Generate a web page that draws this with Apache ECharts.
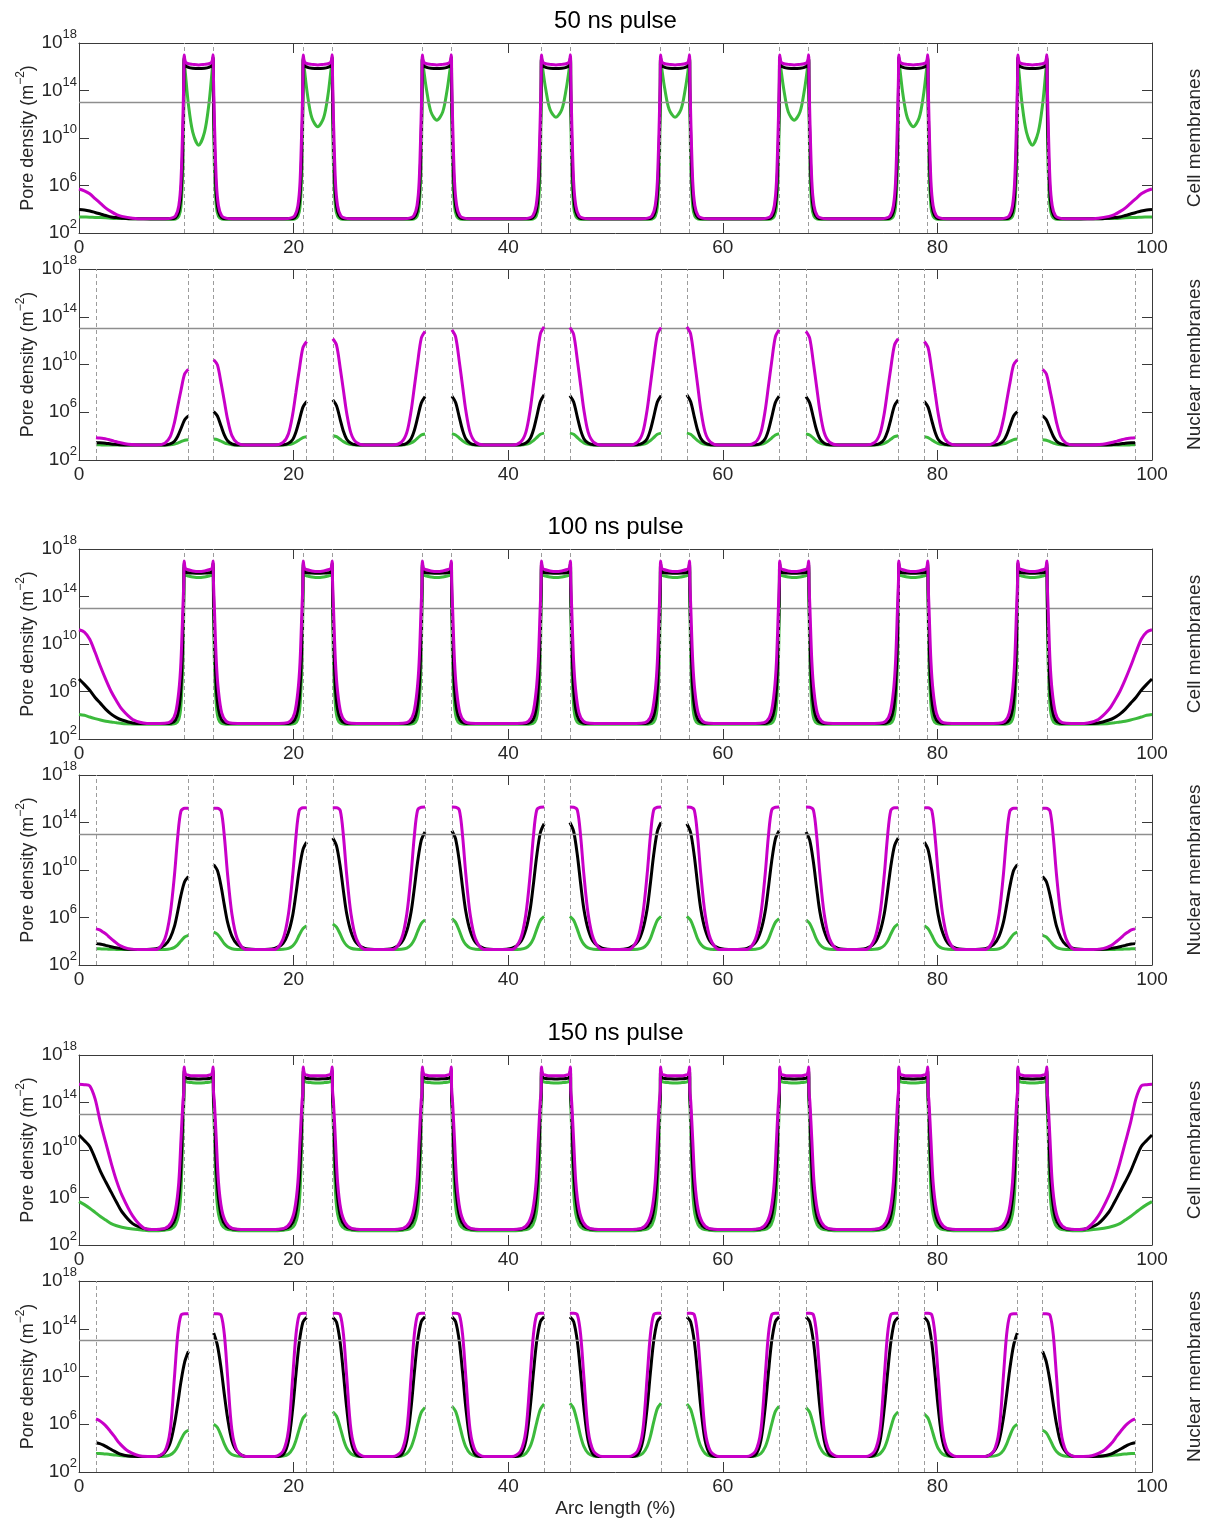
<!DOCTYPE html>
<html>
<head>
<meta charset="utf-8">
<script src="https://cdn.jsdelivr.net/npm/echarts@6/dist/echarts.min.js"></script>
<style>
  html, body { margin: 0; padding: 0; background: #ffffff; }
  #chart { width: 1209px; height: 1522px; }
</style>
</head>
<body>
<div id="chart"></div>
<script>
// ---------------------------------------------------------------------------
// Pore density along the arc length, stored as log10(pore density / m^-2).
// Three pulse lengths, each with a cell-membrane and a nuclear-membrane panel.
// Colours: green, black, magenta traces.
// ---------------------------------------------------------------------------

const pulseTitles = ['50 ns pulse', '100 ns pulse', '150 ns pulse'];
const xTicks = [0, 20, 40, 60, 80, 100];
const yTickExponents = [2, 6, 10, 14, 18];
const thresholdExp = 13;

// Membrane boundaries (arc length, %), drawn as dashed verticals
const cellBoundaries = [9.8, 12.5, 20.9, 23.6, 32.0, 34.7, 43.1, 45.8, 54.2, 56.9, 65.3, 68.0, 76.4, 79.1, 87.5, 90.2];
const nuclearBoundaries = [1.58, 10.2, 12.55, 21.22, 23.65, 32.25, 34.75, 43.35, 45.75, 54.25, 56.65, 65.25, 67.75, 76.35, 78.78, 87.45, 89.8, 98.42];

// Sample positions for the cell-membrane traces: left end, around each boundary pair, right end
const cellArc = [
  [0, 0.5, 1, 1.5, 2, 2.5, 3, 3.5, 4, 5, 6],
  [6.8, 8.0, 8.6, 9.0, 9.3, 9.5, 9.68, 9.77, 9.8, 9.92, 10.2, 10.6, 11.15, 11.7, 12.1, 12.38, 12.5, 12.53, 12.62, 12.8, 13.0, 13.3, 13.7, 14.3, 15.5],
  [17.9, 19.1, 19.7, 20.1, 20.4, 20.6, 20.78, 20.87, 20.9, 21.02, 21.3, 21.7, 22.25, 22.8, 23.2, 23.48, 23.6, 23.63, 23.72, 23.9, 24.1, 24.4, 24.8, 25.4, 26.6],
  [29.0, 30.2, 30.8, 31.2, 31.5, 31.7, 31.88, 31.97, 32.0, 32.12, 32.4, 32.8, 33.35, 33.9, 34.3, 34.58, 34.7, 34.73, 34.82, 35.0, 35.2, 35.5, 35.9, 36.5, 37.7],
  [40.1, 41.3, 41.9, 42.3, 42.6, 42.8, 42.98, 43.07, 43.1, 43.22, 43.5, 43.9, 44.45, 45.0, 45.4, 45.68, 45.8, 45.83, 45.92, 46.1, 46.3, 46.6, 47.0, 47.6, 48.8],
  [51.2, 52.4, 53.0, 53.4, 53.7, 53.9, 54.08, 54.17, 54.2, 54.32, 54.6, 55.0, 55.55, 56.1, 56.5, 56.78, 56.9, 56.93, 57.02, 57.2, 57.4, 57.7, 58.1, 58.7, 59.9],
  [62.3, 63.5, 64.1, 64.5, 64.8, 65.0, 65.18, 65.27, 65.3, 65.42, 65.7, 66.1, 66.65, 67.2, 67.6, 67.88, 68.0, 68.03, 68.12, 68.3, 68.5, 68.8, 69.2, 69.8, 71.0],
  [73.4, 74.6, 75.2, 75.6, 75.9, 76.1, 76.28, 76.37, 76.4, 76.52, 76.8, 77.2, 77.75, 78.3, 78.7, 78.98, 79.1, 79.13, 79.22, 79.4, 79.6, 79.9, 80.3, 80.9, 82.1],
  [84.5, 85.7, 86.3, 86.7, 87.0, 87.2, 87.38, 87.47, 87.5, 87.62, 87.9, 88.3, 88.85, 89.4, 89.8, 90.08, 90.2, 90.23, 90.32, 90.5, 90.7, 91.0, 91.4, 92.0, 93.2],
  [94, 95, 96, 96.5, 97, 97.5, 98, 98.5, 99, 99.5, 100]
];

// Sample positions for the nuclear-membrane traces, one row per nuclear segment
const nucArc = [
  [1.58, 1.93, 2.28, 2.58, 2.88, 3.28, 3.78, 4.58, 5.89, 7.2, 8.0, 8.5, 8.9, 9.2, 9.5, 9.85, 10.2],
  [12.55, 12.9, 13.25, 13.55, 13.85, 14.25, 14.75, 15.55, 16.89, 18.22, 19.02, 19.52, 19.92, 20.22, 20.52, 20.87, 21.22],
  [23.65, 24.0, 24.35, 24.65, 24.95, 25.35, 25.85, 26.65, 27.95, 29.25, 30.05, 30.55, 30.95, 31.25, 31.55, 31.9, 32.25],
  [34.75, 35.1, 35.45, 35.75, 36.05, 36.45, 36.95, 37.75, 39.05, 40.35, 41.15, 41.65, 42.05, 42.35, 42.65, 43.0, 43.35],
  [45.75, 46.1, 46.45, 46.75, 47.05, 47.45, 47.95, 48.75, 50.0, 51.25, 52.05, 52.55, 52.95, 53.25, 53.55, 53.9, 54.25],
  [56.65, 57.0, 57.35, 57.65, 57.95, 58.35, 58.85, 59.65, 60.95, 62.25, 63.05, 63.55, 63.95, 64.25, 64.55, 64.9, 65.25],
  [67.75, 68.1, 68.45, 68.75, 69.05, 69.45, 69.95, 70.75, 72.05, 73.35, 74.15, 74.65, 75.05, 75.35, 75.65, 76.0, 76.35],
  [78.78, 79.13, 79.48, 79.78, 80.08, 80.48, 80.98, 81.78, 83.12, 84.45, 85.25, 85.75, 86.15, 86.45, 86.75, 87.1, 87.45],
  [89.8, 90.15, 90.5, 90.8, 91.1, 91.5, 92.0, 92.8, 94.11, 95.42, 96.22, 96.72, 97.12, 97.42, 97.72, 98.07, 98.42]
];

// ---------------- 50 ns, cell membranes ----------------
const cell50Green = [
  [3.35, 3.34, 3.33, 3.31, 3.3, 3.28, 3.25, 3.23, 3.22, 3.2, 3.2],
  [3.15, 3.15, 3.15, 3.18, 3.4, 4.2, 7.5, 13.0, 16.7, 15.4, 12.8, 10.5, 9.4, 10.5, 12.8, 15.4, 16.7, 13.0, 7.5, 4.2, 3.4, 3.18, 3.15, 3.15, 3.15],
  [3.15, 3.15, 3.15, 3.18, 3.4, 4.2, 7.5, 13.0, 16.7, 15.7, 13.6, 11.7, 10.95, 11.7, 13.6, 15.7, 16.7, 13.0, 7.5, 4.2, 3.4, 3.18, 3.15, 3.15, 3.15],
  [3.15, 3.15, 3.15, 3.18, 3.4, 4.2, 7.5, 13.0, 16.7, 15.8, 14.0, 12.2, 11.5, 12.2, 14.0, 15.8, 16.7, 13.0, 7.5, 4.2, 3.4, 3.18, 3.15, 3.15, 3.15],
  [3.15, 3.15, 3.15, 3.18, 3.4, 4.2, 7.5, 13.0, 16.7, 15.8, 14.1, 12.4, 11.75, 12.4, 14.1, 15.8, 16.7, 13.0, 7.5, 4.2, 3.4, 3.18, 3.15, 3.15, 3.15],
  [3.15, 3.15, 3.15, 3.18, 3.4, 4.2, 7.5, 13.0, 16.7, 15.8, 14.1, 12.4, 11.75, 12.4, 14.1, 15.8, 16.7, 13.0, 7.5, 4.2, 3.4, 3.18, 3.15, 3.15, 3.15],
  [3.15, 3.15, 3.15, 3.18, 3.4, 4.2, 7.5, 13.0, 16.7, 15.8, 14.0, 12.2, 11.5, 12.2, 14.0, 15.8, 16.7, 13.0, 7.5, 4.2, 3.4, 3.18, 3.15, 3.15, 3.15],
  [3.15, 3.15, 3.15, 3.18, 3.4, 4.2, 7.5, 13.0, 16.7, 15.7, 13.6, 11.7, 10.95, 11.7, 13.6, 15.7, 16.7, 13.0, 7.5, 4.2, 3.4, 3.18, 3.15, 3.15, 3.15],
  [3.15, 3.15, 3.15, 3.18, 3.4, 4.2, 7.5, 13.0, 16.7, 15.4, 12.8, 10.5, 9.4, 10.5, 12.8, 15.4, 16.7, 13.0, 7.5, 4.2, 3.4, 3.18, 3.15, 3.15, 3.15],
  [3.2, 3.2, 3.22, 3.23, 3.25, 3.28, 3.3, 3.31, 3.33, 3.34, 3.35]
];
const cell50Black = [
  [3.97, 3.93, 3.85, 3.73, 3.6, 3.47, 3.35, 3.3, 3.25, 3.2, 3.2],
  [3.2, 3.2, 3.2, 3.3, 3.8, 5.2, 9.5, 14.0, 16.8, 16.1, 15.95, 15.88, 15.85, 15.88, 15.95, 16.1, 16.8, 14.0, 9.5, 5.2, 3.8, 3.3, 3.2, 3.2, 3.2],
  [3.2, 3.2, 3.2, 3.3, 3.8, 5.2, 9.5, 14.0, 16.8, 16.1, 15.95, 15.88, 15.85, 15.88, 15.95, 16.1, 16.8, 14.0, 9.5, 5.2, 3.8, 3.3, 3.2, 3.2, 3.2],
  [3.2, 3.2, 3.2, 3.3, 3.8, 5.2, 9.5, 14.0, 16.8, 16.1, 15.95, 15.88, 15.85, 15.88, 15.95, 16.1, 16.8, 14.0, 9.5, 5.2, 3.8, 3.3, 3.2, 3.2, 3.2],
  [3.2, 3.2, 3.2, 3.3, 3.8, 5.2, 9.5, 14.0, 16.8, 16.1, 15.95, 15.88, 15.85, 15.88, 15.95, 16.1, 16.8, 14.0, 9.5, 5.2, 3.8, 3.3, 3.2, 3.2, 3.2],
  [3.2, 3.2, 3.2, 3.3, 3.8, 5.2, 9.5, 14.0, 16.8, 16.1, 15.95, 15.88, 15.85, 15.88, 15.95, 16.1, 16.8, 14.0, 9.5, 5.2, 3.8, 3.3, 3.2, 3.2, 3.2],
  [3.2, 3.2, 3.2, 3.3, 3.8, 5.2, 9.5, 14.0, 16.8, 16.1, 15.95, 15.88, 15.85, 15.88, 15.95, 16.1, 16.8, 14.0, 9.5, 5.2, 3.8, 3.3, 3.2, 3.2, 3.2],
  [3.2, 3.2, 3.2, 3.3, 3.8, 5.2, 9.5, 14.0, 16.8, 16.1, 15.95, 15.88, 15.85, 15.88, 15.95, 16.1, 16.8, 14.0, 9.5, 5.2, 3.8, 3.3, 3.2, 3.2, 3.2],
  [3.2, 3.2, 3.2, 3.3, 3.8, 5.2, 9.5, 14.0, 16.8, 16.1, 15.95, 15.88, 15.85, 15.88, 15.95, 16.1, 16.8, 14.0, 9.5, 5.2, 3.8, 3.3, 3.2, 3.2, 3.2],
  [3.2, 3.2, 3.25, 3.3, 3.35, 3.47, 3.6, 3.73, 3.85, 3.93, 3.97]
];
const cell50Magenta = [
  [5.7, 5.55, 5.3, 4.9, 4.5, 4.1, 3.8, 3.55, 3.4, 3.25, 3.2],
  [3.2, 3.2, 3.25, 3.45, 4.3, 6.3, 11.5, 15.2, 17.0, 16.4, 16.25, 16.2, 16.15, 16.2, 16.25, 16.4, 17.0, 15.2, 11.5, 6.3, 4.3, 3.45, 3.25, 3.2, 3.2],
  [3.2, 3.2, 3.25, 3.45, 4.3, 6.3, 11.5, 15.2, 17.0, 16.4, 16.25, 16.2, 16.15, 16.2, 16.25, 16.4, 17.0, 15.2, 11.5, 6.3, 4.3, 3.45, 3.25, 3.2, 3.2],
  [3.2, 3.2, 3.25, 3.45, 4.3, 6.3, 11.5, 15.2, 17.0, 16.4, 16.25, 16.2, 16.15, 16.2, 16.25, 16.4, 17.0, 15.2, 11.5, 6.3, 4.3, 3.45, 3.25, 3.2, 3.2],
  [3.2, 3.2, 3.25, 3.45, 4.3, 6.3, 11.5, 15.2, 17.0, 16.4, 16.25, 16.2, 16.15, 16.2, 16.25, 16.4, 17.0, 15.2, 11.5, 6.3, 4.3, 3.45, 3.25, 3.2, 3.2],
  [3.2, 3.2, 3.25, 3.45, 4.3, 6.3, 11.5, 15.2, 17.0, 16.4, 16.25, 16.2, 16.15, 16.2, 16.25, 16.4, 17.0, 15.2, 11.5, 6.3, 4.3, 3.45, 3.25, 3.2, 3.2],
  [3.2, 3.2, 3.25, 3.45, 4.3, 6.3, 11.5, 15.2, 17.0, 16.4, 16.25, 16.2, 16.15, 16.2, 16.25, 16.4, 17.0, 15.2, 11.5, 6.3, 4.3, 3.45, 3.25, 3.2, 3.2],
  [3.2, 3.2, 3.25, 3.45, 4.3, 6.3, 11.5, 15.2, 17.0, 16.4, 16.25, 16.2, 16.15, 16.2, 16.25, 16.4, 17.0, 15.2, 11.5, 6.3, 4.3, 3.45, 3.25, 3.2, 3.2],
  [3.2, 3.2, 3.25, 3.45, 4.3, 6.3, 11.5, 15.2, 17.0, 16.4, 16.25, 16.2, 16.15, 16.2, 16.25, 16.4, 17.0, 15.2, 11.5, 6.3, 4.3, 3.45, 3.25, 3.2, 3.2],
  [3.2, 3.25, 3.4, 3.55, 3.8, 4.1, 4.5, 4.9, 5.3, 5.55, 5.7]
];

// ---------------- 50 ns, nuclear membranes ----------------
const nuc50Green = [
  [3.27, 3.27, 3.26, 3.26, 3.25, 3.25, 3.25, 3.25, 3.25, 3.25, 3.25, 3.28, 3.34, 3.42, 3.53, 3.66, 3.7],
  [3.76, 3.71, 3.57, 3.44, 3.35, 3.28, 3.26, 3.25, 3.25, 3.25, 3.26, 3.29, 3.38, 3.51, 3.68, 3.88, 3.95],
  [4.03, 3.95, 3.73, 3.54, 3.4, 3.3, 3.26, 3.25, 3.25, 3.25, 3.26, 3.31, 3.43, 3.59, 3.83, 4.09, 4.18],
  [4.2, 4.1, 3.84, 3.6, 3.43, 3.31, 3.26, 3.25, 3.25, 3.25, 3.26, 3.31, 3.44, 3.62, 3.87, 4.15, 4.25],
  [4.25, 4.15, 3.87, 3.62, 3.44, 3.31, 3.26, 3.25, 3.25, 3.25, 3.26, 3.31, 3.44, 3.62, 3.87, 4.15, 4.25],
  [4.25, 4.15, 3.87, 3.62, 3.44, 3.31, 3.26, 3.25, 3.25, 3.25, 3.26, 3.31, 3.43, 3.6, 3.84, 4.1, 4.2],
  [4.18, 4.09, 3.83, 3.59, 3.43, 3.31, 3.26, 3.25, 3.25, 3.25, 3.26, 3.3, 3.4, 3.54, 3.73, 3.95, 4.03],
  [3.95, 3.88, 3.68, 3.51, 3.38, 3.29, 3.26, 3.25, 3.25, 3.25, 3.26, 3.28, 3.35, 3.44, 3.57, 3.71, 3.76],
  [3.7, 3.66, 3.53, 3.42, 3.34, 3.28, 3.25, 3.25, 3.25, 3.25, 3.25, 3.25, 3.25, 3.26, 3.26, 3.27, 3.27]
];
const nuc50Black = [
  [3.45, 3.44, 3.42, 3.39, 3.36, 3.32, 3.28, 3.25, 3.25, 3.25, 3.26, 3.35, 3.57, 3.99, 4.62, 5.38, 5.7],
  [6.05, 5.69, 4.82, 4.09, 3.61, 3.36, 3.26, 3.25, 3.25, 3.25, 3.27, 3.4, 3.72, 4.35, 5.29, 6.43, 6.9],
  [7.03, 6.54, 5.37, 4.38, 3.74, 3.4, 3.27, 3.25, 3.25, 3.25, 3.27, 3.41, 3.78, 4.47, 5.52, 6.78, 7.31],
  [7.35, 6.82, 5.55, 4.48, 3.78, 3.41, 3.27, 3.25, 3.25, 3.25, 3.27, 3.42, 3.8, 4.51, 5.6, 6.9, 7.45],
  [7.4, 6.86, 5.57, 4.5, 3.79, 3.42, 3.27, 3.25, 3.25, 3.25, 3.27, 3.42, 3.79, 4.5, 5.57, 6.86, 7.4],
  [7.45, 6.9, 5.6, 4.51, 3.8, 3.42, 3.27, 3.25, 3.25, 3.25, 3.27, 3.41, 3.78, 4.48, 5.55, 6.82, 7.35],
  [7.31, 6.78, 5.52, 4.47, 3.78, 3.41, 3.27, 3.25, 3.25, 3.25, 3.27, 3.4, 3.74, 4.38, 5.37, 6.54, 7.03],
  [6.9, 6.43, 5.29, 4.35, 3.72, 3.4, 3.27, 3.25, 3.25, 3.25, 3.26, 3.36, 3.61, 4.09, 4.82, 5.69, 6.05],
  [5.7, 5.38, 4.62, 3.99, 3.57, 3.35, 3.26, 3.25, 3.25, 3.25, 3.28, 3.32, 3.36, 3.39, 3.42, 3.44, 3.45]
];
const nuc50Magenta = [
  [3.87, 3.84, 3.8, 3.75, 3.68, 3.58, 3.46, 3.32, 3.25, 3.25, 3.41, 3.95, 5.16, 6.49, 7.82, 9.22, 9.6],
  [10.4, 9.97, 8.4, 6.9, 5.4, 4.04, 3.43, 3.25, 3.25, 3.25, 3.47, 4.2, 5.85, 7.68, 9.5, 11.41, 11.93],
  [12.16, 11.63, 9.67, 7.79, 5.92, 4.23, 3.47, 3.25, 3.25, 3.25, 3.49, 4.3, 6.1, 8.1, 10.1, 12.2, 12.77],
  [12.9, 12.32, 10.2, 8.17, 6.15, 4.31, 3.49, 3.25, 3.25, 3.25, 3.5, 4.34, 6.22, 8.3, 10.38, 12.56, 13.15],
  [13.1, 12.51, 10.34, 8.27, 6.21, 4.33, 3.5, 3.25, 3.25, 3.25, 3.5, 4.33, 6.21, 8.27, 10.34, 12.51, 13.1],
  [13.15, 12.56, 10.38, 8.3, 6.22, 4.34, 3.5, 3.25, 3.25, 3.25, 3.49, 4.31, 6.15, 8.17, 10.2, 12.32, 12.9],
  [12.77, 12.2, 10.1, 8.1, 6.1, 4.3, 3.49, 3.25, 3.25, 3.25, 3.47, 4.23, 5.92, 7.79, 9.67, 11.63, 12.16],
  [11.93, 11.41, 9.5, 7.68, 5.85, 4.2, 3.47, 3.25, 3.25, 3.25, 3.43, 4.04, 5.4, 6.9, 8.4, 9.97, 10.4],
  [9.6, 9.22, 7.82, 6.49, 5.16, 3.95, 3.41, 3.25, 3.25, 3.32, 3.46, 3.58, 3.68, 3.75, 3.8, 3.84, 3.87]
];

// ---------------- 100 ns, cell membranes ----------------
const cell100Green = [
  [4.07, 4.0, 3.85, 3.72, 3.6, 3.5, 3.43, 3.37, 3.3, 3.26, 3.25],
  [3.25, 3.25, 3.25, 3.3, 3.65, 4.8, 8.5, 13.5, 16.5, 15.85, 15.72, 15.65, 15.6, 15.65, 15.72, 15.85, 16.5, 13.5, 8.5, 4.8, 3.65, 3.3, 3.25, 3.25, 3.25],
  [3.25, 3.25, 3.25, 3.3, 3.65, 4.8, 8.5, 13.5, 16.5, 15.85, 15.72, 15.65, 15.6, 15.65, 15.72, 15.85, 16.5, 13.5, 8.5, 4.8, 3.65, 3.3, 3.25, 3.25, 3.25],
  [3.25, 3.25, 3.25, 3.3, 3.65, 4.8, 8.5, 13.5, 16.5, 15.85, 15.72, 15.65, 15.6, 15.65, 15.72, 15.85, 16.5, 13.5, 8.5, 4.8, 3.65, 3.3, 3.25, 3.25, 3.25],
  [3.25, 3.25, 3.25, 3.3, 3.65, 4.8, 8.5, 13.5, 16.5, 15.85, 15.72, 15.65, 15.6, 15.65, 15.72, 15.85, 16.5, 13.5, 8.5, 4.8, 3.65, 3.3, 3.25, 3.25, 3.25],
  [3.25, 3.25, 3.25, 3.3, 3.65, 4.8, 8.5, 13.5, 16.5, 15.85, 15.72, 15.65, 15.6, 15.65, 15.72, 15.85, 16.5, 13.5, 8.5, 4.8, 3.65, 3.3, 3.25, 3.25, 3.25],
  [3.25, 3.25, 3.25, 3.3, 3.65, 4.8, 8.5, 13.5, 16.5, 15.85, 15.72, 15.65, 15.6, 15.65, 15.72, 15.85, 16.5, 13.5, 8.5, 4.8, 3.65, 3.3, 3.25, 3.25, 3.25],
  [3.25, 3.25, 3.25, 3.3, 3.65, 4.8, 8.5, 13.5, 16.5, 15.85, 15.72, 15.65, 15.6, 15.65, 15.72, 15.85, 16.5, 13.5, 8.5, 4.8, 3.65, 3.3, 3.25, 3.25, 3.25],
  [3.25, 3.25, 3.25, 3.3, 3.65, 4.8, 8.5, 13.5, 16.5, 15.85, 15.72, 15.65, 15.6, 15.65, 15.72, 15.85, 16.5, 13.5, 8.5, 4.8, 3.65, 3.3, 3.25, 3.25, 3.25],
  [3.25, 3.26, 3.3, 3.37, 3.43, 3.5, 3.6, 3.72, 3.85, 4.0, 4.07]
];
const cell100Black = [
  [7.05, 6.6, 6.1, 5.5, 5.0, 4.5, 4.1, 3.8, 3.6, 3.35, 3.3],
  [3.3, 3.3, 3.35, 3.6, 4.5, 6.3, 10.5, 14.5, 16.8, 16.1, 16.0, 15.97, 15.95, 15.97, 16.0, 16.1, 16.8, 14.5, 10.5, 6.3, 4.5, 3.6, 3.35, 3.3, 3.3],
  [3.3, 3.3, 3.35, 3.6, 4.5, 6.3, 10.5, 14.5, 16.8, 16.1, 16.0, 15.97, 15.95, 15.97, 16.0, 16.1, 16.8, 14.5, 10.5, 6.3, 4.5, 3.6, 3.35, 3.3, 3.3],
  [3.3, 3.3, 3.35, 3.6, 4.5, 6.3, 10.5, 14.5, 16.8, 16.1, 16.0, 15.97, 15.95, 15.97, 16.0, 16.1, 16.8, 14.5, 10.5, 6.3, 4.5, 3.6, 3.35, 3.3, 3.3],
  [3.3, 3.3, 3.35, 3.6, 4.5, 6.3, 10.5, 14.5, 16.8, 16.1, 16.0, 15.97, 15.95, 15.97, 16.0, 16.1, 16.8, 14.5, 10.5, 6.3, 4.5, 3.6, 3.35, 3.3, 3.3],
  [3.3, 3.3, 3.35, 3.6, 4.5, 6.3, 10.5, 14.5, 16.8, 16.1, 16.0, 15.97, 15.95, 15.97, 16.0, 16.1, 16.8, 14.5, 10.5, 6.3, 4.5, 3.6, 3.35, 3.3, 3.3],
  [3.3, 3.3, 3.35, 3.6, 4.5, 6.3, 10.5, 14.5, 16.8, 16.1, 16.0, 15.97, 15.95, 15.97, 16.0, 16.1, 16.8, 14.5, 10.5, 6.3, 4.5, 3.6, 3.35, 3.3, 3.3],
  [3.3, 3.3, 3.35, 3.6, 4.5, 6.3, 10.5, 14.5, 16.8, 16.1, 16.0, 15.97, 15.95, 15.97, 16.0, 16.1, 16.8, 14.5, 10.5, 6.3, 4.5, 3.6, 3.35, 3.3, 3.3],
  [3.3, 3.3, 3.35, 3.6, 4.5, 6.3, 10.5, 14.5, 16.8, 16.1, 16.0, 15.97, 15.95, 15.97, 16.0, 16.1, 16.8, 14.5, 10.5, 6.3, 4.5, 3.6, 3.35, 3.3, 3.3],
  [3.3, 3.35, 3.6, 3.8, 4.1, 4.5, 5.0, 5.5, 6.1, 6.6, 7.05]
];
const cell100Magenta = [
  [11.2, 11.0, 10.4, 9.3, 8.1, 7.0, 6.0, 5.2, 4.5, 3.65, 3.35],
  [3.3, 3.32, 3.5, 4.2, 6.0, 8.5, 13.0, 15.3, 17.0, 16.35, 16.25, 16.15, 16.1, 16.15, 16.25, 16.35, 17.0, 15.3, 13.0, 8.5, 6.0, 4.2, 3.5, 3.32, 3.3],
  [3.3, 3.32, 3.5, 4.2, 6.0, 8.5, 13.0, 15.3, 17.0, 16.35, 16.25, 16.15, 16.1, 16.15, 16.25, 16.35, 17.0, 15.3, 13.0, 8.5, 6.0, 4.2, 3.5, 3.32, 3.3],
  [3.3, 3.32, 3.5, 4.2, 6.0, 8.5, 13.0, 15.3, 17.0, 16.35, 16.25, 16.15, 16.1, 16.15, 16.25, 16.35, 17.0, 15.3, 13.0, 8.5, 6.0, 4.2, 3.5, 3.32, 3.3],
  [3.3, 3.32, 3.5, 4.2, 6.0, 8.5, 13.0, 15.3, 17.0, 16.35, 16.25, 16.15, 16.1, 16.15, 16.25, 16.35, 17.0, 15.3, 13.0, 8.5, 6.0, 4.2, 3.5, 3.32, 3.3],
  [3.3, 3.32, 3.5, 4.2, 6.0, 8.5, 13.0, 15.3, 17.0, 16.35, 16.25, 16.15, 16.1, 16.15, 16.25, 16.35, 17.0, 15.3, 13.0, 8.5, 6.0, 4.2, 3.5, 3.32, 3.3],
  [3.3, 3.32, 3.5, 4.2, 6.0, 8.5, 13.0, 15.3, 17.0, 16.35, 16.25, 16.15, 16.1, 16.15, 16.25, 16.35, 17.0, 15.3, 13.0, 8.5, 6.0, 4.2, 3.5, 3.32, 3.3],
  [3.3, 3.32, 3.5, 4.2, 6.0, 8.5, 13.0, 15.3, 17.0, 16.35, 16.25, 16.15, 16.1, 16.15, 16.25, 16.35, 17.0, 15.3, 13.0, 8.5, 6.0, 4.2, 3.5, 3.32, 3.3],
  [3.3, 3.32, 3.5, 4.2, 6.0, 8.5, 13.0, 15.3, 17.0, 16.35, 16.25, 16.15, 16.1, 16.15, 16.25, 16.35, 17.0, 15.3, 13.0, 8.5, 6.0, 4.2, 3.5, 3.32, 3.3],
  [3.35, 3.65, 4.5, 5.2, 6.0, 7.0, 8.1, 9.3, 10.4, 11.0, 11.2]
];

// ---------------- 100 ns, nuclear membranes ----------------
const nuc100Green = [
  [3.37, 3.36, 3.35, 3.34, 3.33, 3.32, 3.31, 3.3, 3.3, 3.3, 3.31, 3.36, 3.49, 3.7, 4.02, 4.36, 4.5],
  [4.77, 4.59, 4.18, 3.79, 3.54, 3.37, 3.31, 3.3, 3.3, 3.3, 3.32, 3.4, 3.62, 3.96, 4.5, 5.06, 5.3],
  [5.45, 5.19, 4.59, 4.01, 3.64, 3.41, 3.32, 3.3, 3.3, 3.3, 3.33, 3.43, 3.7, 4.13, 4.8, 5.5, 5.8],
  [5.9, 5.59, 4.86, 4.16, 3.72, 3.43, 3.33, 3.3, 3.3, 3.3, 3.33, 3.44, 3.75, 4.22, 4.98, 5.76, 6.1],
  [6.1, 5.76, 4.98, 4.22, 3.75, 3.44, 3.33, 3.3, 3.3, 3.3, 3.33, 3.44, 3.75, 4.22, 4.98, 5.76, 6.1],
  [6.1, 5.76, 4.98, 4.22, 3.75, 3.44, 3.33, 3.3, 3.3, 3.3, 3.33, 3.43, 3.72, 4.16, 4.86, 5.59, 5.9],
  [5.8, 5.5, 4.8, 4.13, 3.7, 3.43, 3.33, 3.3, 3.3, 3.3, 3.32, 3.41, 3.64, 4.01, 4.59, 5.19, 5.45],
  [5.3, 5.06, 4.5, 3.96, 3.62, 3.4, 3.32, 3.3, 3.3, 3.3, 3.31, 3.37, 3.54, 3.79, 4.18, 4.59, 4.77],
  [4.5, 4.36, 4.02, 3.7, 3.49, 3.36, 3.31, 3.3, 3.3, 3.3, 3.31, 3.32, 3.33, 3.34, 3.35, 3.36, 3.37]
];
const nuc100Black = [
  [3.8, 3.77, 3.7, 3.63, 3.56, 3.48, 3.4, 3.32, 3.3, 3.36, 3.67, 4.29, 5.27, 6.5, 7.86, 9.03, 9.46],
  [10.45, 9.95, 8.59, 7.02, 5.59, 4.44, 3.73, 3.37, 3.3, 3.39, 3.84, 4.75, 6.2, 8.01, 10.0, 11.72, 12.35],
  [12.7, 12.04, 10.26, 8.19, 6.31, 4.8, 3.86, 3.39, 3.3, 3.4, 3.89, 4.88, 6.47, 8.45, 10.63, 12.51, 13.2],
  [13.3, 12.6, 10.7, 8.5, 6.5, 4.9, 3.9, 3.4, 3.3, 3.41, 3.94, 5.0, 6.69, 8.81, 11.14, 13.16, 13.9],
  [14.0, 13.25, 11.22, 8.86, 6.72, 5.01, 3.94, 3.41, 3.3, 3.41, 3.94, 5.01, 6.72, 8.86, 11.22, 13.25, 14.0],
  [13.9, 13.16, 11.14, 8.81, 6.69, 5.0, 3.94, 3.41, 3.3, 3.4, 3.9, 4.9, 6.5, 8.5, 10.7, 12.6, 13.3],
  [13.2, 12.51, 10.63, 8.45, 6.47, 4.88, 3.89, 3.4, 3.3, 3.39, 3.86, 4.8, 6.31, 8.19, 10.26, 12.04, 12.7],
  [12.35, 11.72, 10.0, 8.01, 6.2, 4.75, 3.84, 3.39, 3.3, 3.37, 3.73, 4.44, 5.59, 7.02, 8.59, 9.95, 10.45],
  [9.46, 9.03, 7.86, 6.5, 5.27, 4.29, 3.67, 3.36, 3.3, 3.32, 3.4, 3.48, 3.56, 3.63, 3.7, 3.77, 3.8]
];
const nuc100Magenta = [
  [5.04, 4.95, 4.75, 4.55, 4.3, 4.0, 3.65, 3.38, 3.3, 3.3, 4.2, 6.3, 9.6, 12.8, 14.95, 15.2, 15.2],
  [15.2, 15.2, 14.95, 12.8, 9.6, 6.3, 4.2, 3.3, 3.3, 3.3, 4.2, 6.3, 9.6, 12.8, 15.0, 15.25, 15.25],
  [15.25, 15.25, 15.0, 12.8, 9.6, 6.3, 4.2, 3.3, 3.3, 3.3, 4.2, 6.3, 9.65, 12.85, 15.02, 15.28, 15.3],
  [15.3, 15.28, 15.02, 12.85, 9.65, 6.3, 4.2, 3.3, 3.3, 3.3, 4.2, 6.3, 9.65, 12.85, 15.02, 15.28, 15.3],
  [15.3, 15.28, 15.02, 12.85, 9.65, 6.3, 4.2, 3.3, 3.3, 3.3, 4.2, 6.3, 9.65, 12.85, 15.02, 15.28, 15.3],
  [15.3, 15.28, 15.02, 12.85, 9.65, 6.3, 4.2, 3.3, 3.3, 3.3, 4.2, 6.3, 9.65, 12.85, 15.02, 15.28, 15.3],
  [15.3, 15.28, 15.02, 12.85, 9.65, 6.3, 4.2, 3.3, 3.3, 3.3, 4.2, 6.3, 9.6, 12.8, 15.0, 15.25, 15.25],
  [15.25, 15.25, 15.0, 12.8, 9.6, 6.3, 4.2, 3.3, 3.3, 3.3, 4.2, 6.3, 9.6, 12.8, 14.95, 15.2, 15.2],
  [15.2, 15.2, 14.95, 12.8, 9.6, 6.3, 4.2, 3.3, 3.3, 3.38, 3.65, 4.0, 4.3, 4.55, 4.75, 4.95, 5.04]
];

// ---------------- 150 ns, cell membranes ----------------
const cell150Green = [
  [5.65, 5.4, 5.1, 4.75, 4.4, 4.1, 3.8, 3.62, 3.5, 3.35, 3.25],
  [3.2, 3.25, 3.35, 3.7, 4.6, 6.5, 11.5, 14.0, 16.4, 15.8, 15.7, 15.67, 15.65, 15.67, 15.7, 15.8, 16.4, 14.0, 11.5, 6.5, 4.6, 3.7, 3.35, 3.25, 3.2],
  [3.2, 3.25, 3.35, 3.7, 4.6, 6.5, 11.5, 14.0, 16.4, 15.8, 15.7, 15.67, 15.65, 15.67, 15.7, 15.8, 16.4, 14.0, 11.5, 6.5, 4.6, 3.7, 3.35, 3.25, 3.2],
  [3.2, 3.25, 3.35, 3.7, 4.6, 6.5, 11.5, 14.0, 16.4, 15.8, 15.7, 15.67, 15.65, 15.67, 15.7, 15.8, 16.4, 14.0, 11.5, 6.5, 4.6, 3.7, 3.35, 3.25, 3.2],
  [3.2, 3.25, 3.35, 3.7, 4.6, 6.5, 11.5, 14.0, 16.4, 15.8, 15.7, 15.67, 15.65, 15.67, 15.7, 15.8, 16.4, 14.0, 11.5, 6.5, 4.6, 3.7, 3.35, 3.25, 3.2],
  [3.2, 3.25, 3.35, 3.7, 4.6, 6.5, 11.5, 14.0, 16.4, 15.8, 15.7, 15.67, 15.65, 15.67, 15.7, 15.8, 16.4, 14.0, 11.5, 6.5, 4.6, 3.7, 3.35, 3.25, 3.2],
  [3.2, 3.25, 3.35, 3.7, 4.6, 6.5, 11.5, 14.0, 16.4, 15.8, 15.7, 15.67, 15.65, 15.67, 15.7, 15.8, 16.4, 14.0, 11.5, 6.5, 4.6, 3.7, 3.35, 3.25, 3.2],
  [3.2, 3.25, 3.35, 3.7, 4.6, 6.5, 11.5, 14.0, 16.4, 15.8, 15.7, 15.67, 15.65, 15.67, 15.7, 15.8, 16.4, 14.0, 11.5, 6.5, 4.6, 3.7, 3.35, 3.25, 3.2],
  [3.2, 3.25, 3.35, 3.7, 4.6, 6.5, 11.5, 14.0, 16.4, 15.8, 15.7, 15.67, 15.65, 15.67, 15.7, 15.8, 16.4, 14.0, 11.5, 6.5, 4.6, 3.7, 3.35, 3.25, 3.2],
  [3.25, 3.35, 3.5, 3.62, 3.8, 4.1, 4.4, 4.75, 5.1, 5.4, 5.65]
];
const cell150Black = [
  [11.26, 10.8, 10.3, 9.3, 8.2, 7.3, 6.45, 5.6, 4.8, 3.8, 3.4],
  [3.3, 3.35, 3.6, 4.3, 6.0, 8.5, 13.0, 14.5, 16.7, 16.1, 16.02, 16.0, 15.98, 16.0, 16.02, 16.1, 16.7, 14.5, 13.0, 8.5, 6.0, 4.3, 3.6, 3.35, 3.3],
  [3.3, 3.35, 3.6, 4.3, 6.0, 8.5, 13.0, 14.5, 16.7, 16.1, 16.02, 16.0, 15.98, 16.0, 16.02, 16.1, 16.7, 14.5, 13.0, 8.5, 6.0, 4.3, 3.6, 3.35, 3.3],
  [3.3, 3.35, 3.6, 4.3, 6.0, 8.5, 13.0, 14.5, 16.7, 16.1, 16.02, 16.0, 15.98, 16.0, 16.02, 16.1, 16.7, 14.5, 13.0, 8.5, 6.0, 4.3, 3.6, 3.35, 3.3],
  [3.3, 3.35, 3.6, 4.3, 6.0, 8.5, 13.0, 14.5, 16.7, 16.1, 16.02, 16.0, 15.98, 16.0, 16.02, 16.1, 16.7, 14.5, 13.0, 8.5, 6.0, 4.3, 3.6, 3.35, 3.3],
  [3.3, 3.35, 3.6, 4.3, 6.0, 8.5, 13.0, 14.5, 16.7, 16.1, 16.02, 16.0, 15.98, 16.0, 16.02, 16.1, 16.7, 14.5, 13.0, 8.5, 6.0, 4.3, 3.6, 3.35, 3.3],
  [3.3, 3.35, 3.6, 4.3, 6.0, 8.5, 13.0, 14.5, 16.7, 16.1, 16.02, 16.0, 15.98, 16.0, 16.02, 16.1, 16.7, 14.5, 13.0, 8.5, 6.0, 4.3, 3.6, 3.35, 3.3],
  [3.3, 3.35, 3.6, 4.3, 6.0, 8.5, 13.0, 14.5, 16.7, 16.1, 16.02, 16.0, 15.98, 16.0, 16.02, 16.1, 16.7, 14.5, 13.0, 8.5, 6.0, 4.3, 3.6, 3.35, 3.3],
  [3.3, 3.35, 3.6, 4.3, 6.0, 8.5, 13.0, 14.5, 16.7, 16.1, 16.02, 16.0, 15.98, 16.0, 16.02, 16.1, 16.7, 14.5, 13.0, 8.5, 6.0, 4.3, 3.6, 3.35, 3.3],
  [3.4, 3.8, 4.8, 5.6, 6.45, 7.3, 8.2, 9.3, 10.3, 10.8, 11.26]
];
const cell150Magenta = [
  [15.53, 15.5, 15.4, 14.3, 12.3, 10.6, 8.9, 7.4, 6.2, 4.45, 3.45],
  [3.3, 3.4, 3.9, 5.0, 7.3, 10.8, 14.0, 15.0, 17.0, 16.4, 16.3, 16.25, 16.25, 16.25, 16.3, 16.4, 17.0, 15.0, 14.0, 10.8, 7.3, 5.0, 3.9, 3.4, 3.3],
  [3.3, 3.4, 3.9, 5.0, 7.3, 10.8, 14.0, 15.0, 17.0, 16.4, 16.3, 16.25, 16.25, 16.25, 16.3, 16.4, 17.0, 15.0, 14.0, 10.8, 7.3, 5.0, 3.9, 3.4, 3.3],
  [3.3, 3.4, 3.9, 5.0, 7.3, 10.8, 14.0, 15.0, 17.0, 16.4, 16.3, 16.25, 16.25, 16.25, 16.3, 16.4, 17.0, 15.0, 14.0, 10.8, 7.3, 5.0, 3.9, 3.4, 3.3],
  [3.3, 3.4, 3.9, 5.0, 7.3, 10.8, 14.0, 15.0, 17.0, 16.4, 16.3, 16.25, 16.25, 16.25, 16.3, 16.4, 17.0, 15.0, 14.0, 10.8, 7.3, 5.0, 3.9, 3.4, 3.3],
  [3.3, 3.4, 3.9, 5.0, 7.3, 10.8, 14.0, 15.0, 17.0, 16.4, 16.3, 16.25, 16.25, 16.25, 16.3, 16.4, 17.0, 15.0, 14.0, 10.8, 7.3, 5.0, 3.9, 3.4, 3.3],
  [3.3, 3.4, 3.9, 5.0, 7.3, 10.8, 14.0, 15.0, 17.0, 16.4, 16.3, 16.25, 16.25, 16.25, 16.3, 16.4, 17.0, 15.0, 14.0, 10.8, 7.3, 5.0, 3.9, 3.4, 3.3],
  [3.3, 3.4, 3.9, 5.0, 7.3, 10.8, 14.0, 15.0, 17.0, 16.4, 16.3, 16.25, 16.25, 16.25, 16.3, 16.4, 17.0, 15.0, 14.0, 10.8, 7.3, 5.0, 3.9, 3.4, 3.3],
  [3.3, 3.4, 3.9, 5.0, 7.3, 10.8, 14.0, 15.0, 17.0, 16.4, 16.3, 16.25, 16.25, 16.25, 16.3, 16.4, 17.0, 15.0, 14.0, 10.8, 7.3, 5.0, 3.9, 3.4, 3.3],
  [3.45, 4.45, 6.2, 7.4, 8.9, 10.6, 12.3, 14.3, 15.4, 15.5, 15.53]
];

// ---------------- 150 ns, nuclear membranes ----------------
const nuc150Green = [
  [3.55, 3.54, 3.52, 3.5, 3.47, 3.43, 3.38, 3.33, 3.3, 3.3, 3.32, 3.43, 3.72, 4.14, 4.71, 5.28, 5.5],
  [6.0, 5.73, 5.03, 4.33, 3.81, 3.46, 3.33, 3.3, 3.3, 3.3, 3.34, 3.51, 3.97, 4.65, 5.57, 6.5, 6.85],
  [7.05, 6.68, 5.7, 4.73, 4.01, 3.53, 3.34, 3.3, 3.3, 3.3, 3.34, 3.55, 4.08, 4.86, 5.92, 6.99, 7.4],
  [7.5, 7.08, 5.99, 4.9, 4.1, 3.55, 3.34, 3.3, 3.3, 3.3, 3.34, 3.56, 4.14, 4.97, 6.12, 7.26, 7.7],
  [7.75, 7.31, 6.15, 4.99, 4.15, 3.57, 3.34, 3.3, 3.3, 3.3, 3.34, 3.57, 4.15, 4.99, 6.15, 7.31, 7.75],
  [7.7, 7.26, 6.12, 4.97, 4.14, 3.56, 3.34, 3.3, 3.3, 3.3, 3.34, 3.55, 4.1, 4.9, 5.99, 7.08, 7.5],
  [7.4, 6.99, 5.92, 4.86, 4.08, 3.55, 3.34, 3.3, 3.3, 3.3, 3.34, 3.53, 4.01, 4.73, 5.7, 6.68, 7.05],
  [6.85, 6.5, 5.57, 4.65, 3.97, 3.51, 3.34, 3.3, 3.3, 3.3, 3.33, 3.46, 3.81, 4.33, 5.03, 5.73, 6.0],
  [5.5, 5.28, 4.71, 4.14, 3.72, 3.43, 3.32, 3.3, 3.3, 3.33, 3.38, 3.43, 3.47, 3.5, 3.52, 3.54, 3.55]
];
const nuc150Black = [
  [4.45, 4.38, 4.25, 4.1, 3.95, 3.75, 3.52, 3.34, 3.3, 3.3, 3.65, 4.44, 6.03, 7.7, 9.55, 11.22, 12.1],
  [13.64, 12.61, 10.64, 8.47, 6.51, 4.64, 3.71, 3.3, 3.3, 3.3, 3.45, 4.6, 7.35, 10.2, 12.8, 14.55, 14.95],
  [14.95, 14.55, 12.8, 10.2, 7.35, 4.6, 3.45, 3.3, 3.3, 3.3, 3.45, 4.65, 7.4, 10.3, 12.9, 14.6, 15.0],
  [15.0, 14.6, 12.9, 10.3, 7.4, 4.65, 3.45, 3.3, 3.3, 3.3, 3.45, 4.65, 7.4, 10.3, 12.9, 14.6, 15.0],
  [15.0, 14.6, 12.9, 10.3, 7.4, 4.65, 3.45, 3.3, 3.3, 3.3, 3.45, 4.65, 7.4, 10.3, 12.9, 14.6, 15.0],
  [15.0, 14.6, 12.9, 10.3, 7.4, 4.65, 3.45, 3.3, 3.3, 3.3, 3.45, 4.65, 7.4, 10.3, 12.9, 14.6, 15.0],
  [15.0, 14.6, 12.9, 10.3, 7.4, 4.65, 3.45, 3.3, 3.3, 3.3, 3.45, 4.6, 7.35, 10.2, 12.8, 14.55, 14.95],
  [14.95, 14.55, 12.8, 10.2, 7.35, 4.6, 3.45, 3.3, 3.3, 3.3, 3.71, 4.64, 6.51, 8.47, 10.64, 12.61, 13.64],
  [12.1, 11.22, 9.55, 7.7, 6.03, 4.44, 3.65, 3.3, 3.3, 3.34, 3.52, 3.75, 3.95, 4.1, 4.25, 4.38, 4.45]
];
const nuc150Magenta = [
  [6.44, 6.3, 6.05, 5.78, 5.45, 5.0, 4.4, 3.75, 3.32, 3.3, 3.75, 5.5, 10.0, 13.5, 15.12, 15.25, 15.25],
  [15.25, 15.25, 15.12, 13.5, 10.0, 5.5, 3.75, 3.3, 3.3, 3.3, 3.75, 5.5, 10.0, 13.5, 15.15, 15.3, 15.3],
  [15.3, 15.3, 15.15, 13.5, 10.0, 5.5, 3.75, 3.3, 3.3, 3.3, 3.75, 5.5, 10.0, 13.5, 15.15, 15.3, 15.3],
  [15.3, 15.3, 15.15, 13.5, 10.0, 5.5, 3.75, 3.3, 3.3, 3.3, 3.75, 5.5, 10.0, 13.5, 15.15, 15.3, 15.3],
  [15.3, 15.3, 15.15, 13.5, 10.0, 5.5, 3.75, 3.3, 3.3, 3.3, 3.75, 5.5, 10.0, 13.5, 15.15, 15.3, 15.3],
  [15.3, 15.3, 15.15, 13.5, 10.0, 5.5, 3.75, 3.3, 3.3, 3.3, 3.75, 5.5, 10.0, 13.5, 15.15, 15.3, 15.3],
  [15.3, 15.3, 15.15, 13.5, 10.0, 5.5, 3.75, 3.3, 3.3, 3.3, 3.75, 5.5, 10.0, 13.5, 15.15, 15.3, 15.3],
  [15.3, 15.3, 15.15, 13.5, 10.0, 5.5, 3.75, 3.3, 3.3, 3.3, 3.75, 5.5, 10.0, 13.5, 15.12, 15.25, 15.25],
  [15.25, 15.25, 15.12, 13.5, 10.0, 5.5, 3.75, 3.3, 3.32, 3.75, 4.4, 5.0, 5.45, 5.78, 6.05, 6.3, 6.44]
];

// ---------------------------------------------------------------------------
// Presentation
// ---------------------------------------------------------------------------
const FONT = "'Liberation Sans', Arial, Helvetica, sans-serif";
const TEXT_COLOR = '#262626';
const AXIS_COLOR = '#3a3a3a';
const TRACE_COLORS = { green: '#3cba3c', black: '#000000', magenta: '#c800c8' };

const panels = [
  { top: 43,   height: 190, label: 'Cell membranes',    arc: cellArc, broken: false, edges: cellBoundaries,    traces: [cell50Green, cell50Black, cell50Magenta] },
  { top: 269,  height: 191, label: 'Nuclear membranes', arc: nucArc,  broken: true,  edges: nuclearBoundaries, traces: [nuc50Green, nuc50Black, nuc50Magenta] },
  { top: 549,  height: 190, label: 'Cell membranes',    arc: cellArc, broken: false, edges: cellBoundaries,    traces: [cell100Green, cell100Black, cell100Magenta] },
  { top: 775,  height: 190, label: 'Nuclear membranes', arc: nucArc,  broken: true,  edges: nuclearBoundaries, traces: [nuc100Green, nuc100Black, nuc100Magenta] },
  { top: 1055, height: 190, label: 'Cell membranes',    arc: cellArc, broken: false, edges: cellBoundaries,    traces: [cell150Green, cell150Black, cell150Magenta] },
  { top: 1281, height: 191, label: 'Nuclear membranes', arc: nucArc,  broken: true,  edges: nuclearBoundaries, traces: [nuc150Green, nuc150Black, nuc150Magenta] }
];
const titleTops = [9, 515, 1021];

// Pair sample positions with values; a null point separates nuclear segments
function toPoints(arcGroups, valueGroups, broken) {
  const pts = [];
  arcGroups.forEach((xs, g) => {
    if (broken && g > 0) pts.push([xs[0], null]);
    xs.forEach((x, i) => pts.push([x, valueGroups[g][i]]));
  });
  return pts;
}

const grid = [], xAxis = [], yAxis = [], series = [];
const traceNames = ['green', 'black', 'magenta'];

panels.forEach((p, i) => {
  grid.push({ left: 79, width: 1073, top: p.top, height: p.height, containLabel: false, outerBoundsMode: 'none' });

  const lineCommon = { show: true, onZero: false, lineStyle: { color: AXIS_COLOR, width: 1 } };
  const tickCommon = { show: true, inside: true, length: 10, lineStyle: { color: AXIS_COLOR, width: 1 } };

  xAxis.push({
    gridIndex: i, type: 'value', position: 'bottom',
    min: xTicks[0], max: xTicks[xTicks.length - 1], interval: 20,
    axisLine: lineCommon, axisTick: tickCommon, splitLine: { show: false },
    axisLabel: { fontSize: 19, color: TEXT_COLOR, margin: 5, fontFamily: FONT },
    name: i === panels.length - 1 ? 'Arc length (%)' : '',
    nameLocation: 'middle', nameGap: 27, nameMoveOverlap: false,
    nameTextStyle: { fontSize: 19, color: TEXT_COLOR, fontFamily: FONT }
  });
  xAxis.push({
    gridIndex: i, type: 'value', position: 'top',
    min: xTicks[0], max: xTicks[xTicks.length - 1], interval: 20,
    axisLine: lineCommon, axisTick: tickCommon, splitLine: { show: false },
    axisLabel: { show: false }
  });

  yAxis.push({
    gridIndex: i, type: 'value', position: 'left',
    min: yTickExponents[0], max: yTickExponents[yTickExponents.length - 1], interval: 4,
    axisLine: lineCommon, axisTick: tickCommon, splitLine: { show: false },
    axisLabel: {
      margin: 2,
      formatter: v => '{b|10}{s|' + v + '}',
      rich: {
        b: { fontSize: 19, color: TEXT_COLOR, fontFamily: FONT, lineHeight: 30, verticalAlign: 'middle' },
        s: { fontSize: 13, color: TEXT_COLOR, fontFamily: FONT, lineHeight: 14, verticalAlign: 'top' }
      }
    },
    name: 'Pore density (m{s|\u22122})',
    nameLocation: 'middle', nameRotate: 90, nameGap: 38, nameMoveOverlap: false,
    nameTextStyle: {
      fontSize: 18, color: TEXT_COLOR, fontFamily: FONT, lineHeight: 26,
      rich: { s: { fontSize: 12, color: TEXT_COLOR, fontFamily: FONT, lineHeight: 13, verticalAlign: 'top' } }
    }
  });
  yAxis.push({
    gridIndex: i, type: 'value', position: 'right',
    min: yTickExponents[0], max: yTickExponents[yTickExponents.length - 1], interval: 4,
    axisLine: lineCommon, axisTick: tickCommon, splitLine: { show: false },
    axisLabel: { show: false },
    name: p.label, nameLocation: 'middle', nameRotate: 90, nameGap: 33, nameMoveOverlap: false,
    nameTextStyle: { fontSize: 19, color: TEXT_COLOR, fontFamily: FONT }
  });

  // Boundaries and the threshold level
  series.push({
    type: 'line', xAxisIndex: 2 * i, yAxisIndex: 2 * i, data: [], z: 1, silent: true,
    markLine: {
      silent: true, symbol: ['none', 'none'], animation: false,
      label: { show: false },
      data: [
        ...p.edges.map(x => ({ xAxis: x, lineStyle: { color: '#9c9c9c', width: 1, type: [4, 3] } })),
        { yAxis: thresholdExp, lineStyle: { color: '#8e8e8e', width: 1.4, type: 'solid' } }
      ]
    }
  });

  p.traces.forEach((vals, k) => {
    series.push({
      name: traceNames[k],
      type: 'line', xAxisIndex: 2 * i, yAxisIndex: 2 * i,
      data: toPoints(p.arc, vals, p.broken),
      showSymbol: false, symbol: 'none', smooth: 0.3, connectNulls: false,
      lineStyle: { color: TRACE_COLORS[traceNames[k]], width: 3 },
      z: 3 + k, silent: true
    });
  });
});

const option = {
  animation: false,
  backgroundColor: '#ffffff',
  title: pulseTitles.map((t, i) => ({
    text: t, left: 615.5, top: titleTops[i], textAlign: 'center', padding: 0,
    textStyle: { fontSize: 24, fontWeight: 'normal', color: '#000000', fontFamily: FONT }
  })),
  grid, xAxis, yAxis, series
};

const chart = echarts.init(document.getElementById('chart'), null, { renderer: 'canvas' });
chart.setOption(option);
</script>
</body>
</html>
